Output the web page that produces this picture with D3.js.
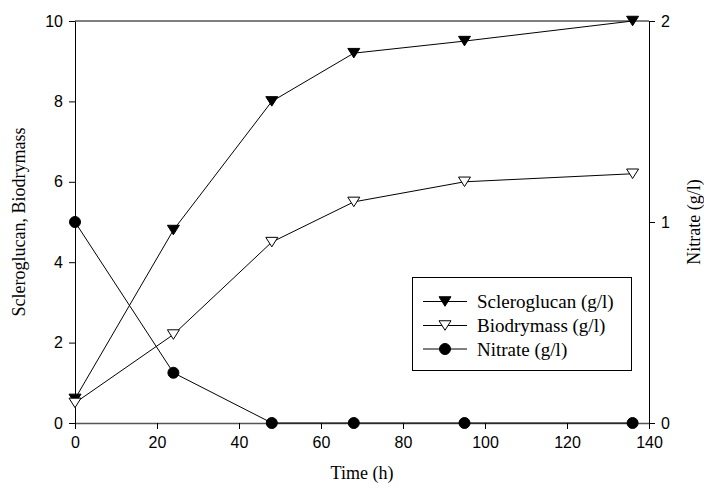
<!DOCTYPE html>
<html><head><meta charset="utf-8">
<script src="https://cdn.jsdelivr.net/npm/d3@7"></script>
<style>body{margin:0;background:#fff}svg{display:block}</style>
</head><body>
<svg id="c" width="704" height="489"></svg>
<script>
const times = [0, 24, 48, 68, 95, 136];
const scleroglucan = [0.6, 4.8, 8.0, 9.2, 9.5, 10.0];
const biodrymass = [0.5, 2.2, 4.5, 5.5, 6.0, 6.2];
const nitrate = [1.0, 0.25, 0, 0, 0, 0];
const xTicks = [0, 20, 40, 60, 80, 100, 120, 140];
const yLeftTicks = [0, 2, 4, 6, 8, 10];
const yRightTicks = [0, 1, 2];
const legendLabels = ["Scleroglucan (g/l)", "Biodrymass (g/l)", "Nitrate (g/l)"];

const svg = d3.select("#c");
const L = 75, R = 649, T = 21, B = 423;
const x = d3.scaleLinear().domain([0, 140]).range([L, R]);
const yL = d3.scaleLinear().domain([0, 10]).range([B, T]);
const yR = d3.scaleLinear().domain([0, 2]).range([B, T]);

const tickFont = "'Liberation Sans', Arial, sans-serif";
const serif = "'Liberation Serif', 'Times New Roman', serif";
const fmt = d3.format("d");

// top frame line
svg.append("line").attr("x1", L).attr("x2", R).attr("y1", T).attr("y2", T)
  .attr("stroke", "#000").attr("stroke-width", 1);

function styleAxis(g) {
  g.selectAll("text").attr("font-family", tickFont).attr("font-size", 16).attr("fill", "#000");
  g.selectAll("line").attr("stroke", "#000");
  g.select(".domain").attr("stroke", "#000");
}

const gx = svg.append("g").attr("transform", `translate(0,${B})`)
  .call(d3.axisBottom(x).tickValues(xTicks).tickFormat(fmt).tickSize(6).tickPadding(8).tickSizeOuter(0));
styleAxis(gx);
gx.select(".domain").attr("stroke", "#555").attr("stroke-width", 1.5);

const gl = svg.append("g").attr("transform", `translate(${L},0)`)
  .call(d3.axisLeft(yL).tickValues(yLeftTicks).tickFormat(fmt).tickSize(6).tickPadding(6).tickSizeOuter(0));
styleAxis(gl);

const gr = svg.append("g").attr("transform", `translate(${R},0)`)
  .call(d3.axisRight(yR).tickValues(yRightTicks).tickFormat(fmt).tickSize(6).tickPadding(6).tickSizeOuter(0));
styleAxis(gr);

// axis titles
svg.append("text").attr("x", (L + R) / 2).attr("y", 479).attr("text-anchor", "middle")
  .attr("font-family", serif).attr("font-size", 18).text("Time (h)");
svg.append("text").attr("transform", `translate(25,${(T + B) / 2}) rotate(-90)`)
  .attr("text-anchor", "middle").attr("font-family", serif).attr("font-size", 18)
  .text("Scleroglucan, Biodrymass");
svg.append("text").attr("transform", `translate(700,${(T + B) / 2}) rotate(-90)`)
  .attr("text-anchor", "middle").attr("font-family", serif).attr("font-size", 18)
  .text("Nitrate (g/l)");

const triDown = d3.symbol().type({
  draw(ctx, size) {
    const w = 6, h = 9.5;
    ctx.moveTo(-w, -h / 2); ctx.lineTo(w, -h / 2); ctx.lineTo(0, h / 2); ctx.closePath();
  }
});
const circ = d3.symbol().type(d3.symbolCircle).size(Math.PI * 5.5 * 5.5);

const series = [
  { vals: scleroglucan, y: yL, sym: triDown, fill: "#000" },
  { vals: biodrymass, y: yL, sym: triDown, fill: "#fff" },
  { vals: nitrate, y: yR, sym: circ, fill: "#000" }
];

const line = (ys) => d3.line().x((d, i) => x(times[i])).y(d => ys(d));
series.forEach(s => {
  svg.append("path").datum(s.vals).attr("d", line(s.y)).attr("fill", "none")
    .attr("stroke", "#000").attr("stroke-width", 1);
});
series.forEach(s => {
  svg.selectAll(null).data(s.vals).enter().append("path")
    .attr("d", s.sym())
    .attr("transform", (d, i) => `translate(${x(times[i])},${s.y(d)})`)
    .attr("fill", s.fill).attr("stroke", "#000").attr("stroke-width", 1);
});

// legend
const lg = svg.append("g");
lg.append("rect").attr("x", 412.5).attr("y", 277.5).attr("width", 219).attr("height", 93)
  .attr("fill", "#fff").attr("stroke", "#000").attr("stroke-width", 1);
const rowY = [301.5, 325.5, 349];
series.forEach((s, i) => {
  lg.append("line").attr("x1", 423).attr("x2", 467).attr("y1", rowY[i]).attr("y2", rowY[i])
    .attr("stroke", "#000");
  lg.append("path").attr("d", s.sym()).attr("transform", `translate(445,${rowY[i]})`)
    .attr("fill", s.fill).attr("stroke", "#000");
  lg.append("text").attr("x", 477).attr("y", rowY[i]).attr("dy", "0.35em")
    .attr("font-family", serif).attr("font-size", 19).text(legendLabels[i]);
});
</script>
</body></html>
